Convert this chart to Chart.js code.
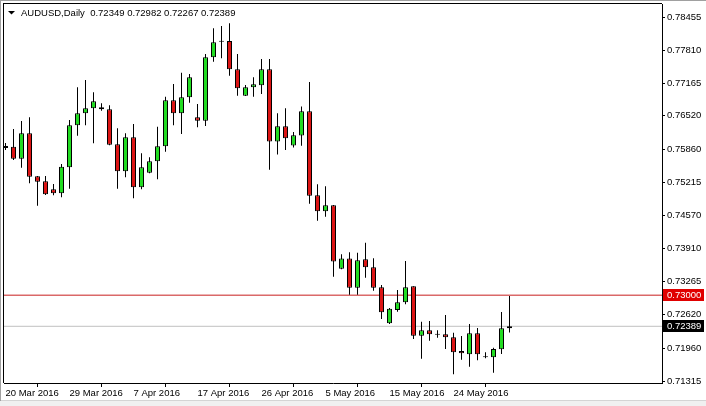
<!DOCTYPE html>
<html>
<head>
<meta charset="utf-8">
<script src="https://cdn.jsdelivr.net/npm/chart.js@4.4.1/dist/chart.umd.min.js"></script>
<style>
  html, body { margin: 0; padding: 0; background: #fff; }
  canvas { display: block; }
</style>
</head>
<body>
<canvas id="fxChart" width="706" height="406"></canvas>
<script>
const symbol = 'AUDUSD,Daily';

// daily candles, 20 Mar 2016 .. 1 Jun 2016 (MT4 keeps the Sunday bars)
const opens = [
  0.75889, 0.75915, 0.75679, 0.76178, 0.75334, 0.75236, 0.75079, 0.75000,
  0.75510, 0.76335, 0.76570, 0.76669, 0.76688, 0.76649, 0.75962, 0.75432,
  0.76099, 0.75118, 0.75404, 0.75628, 0.75923, 0.76826, 0.76570, 0.76885,
  0.76492, 0.76425, 0.77670, 0.77976, 0.77990, 0.77434, 0.76916, 0.77081,
  0.77120, 0.77434, 0.76017, 0.76315, 0.75938, 0.76135, 0.76610, 0.74961,
  0.74647, 0.74764, 0.73518, 0.73720, 0.73147, 0.73704, 0.73547, 0.73155,
  0.72448, 0.72709, 0.72860, 0.73174, 0.72205, 0.72311, 0.72224, 0.72232,
  0.72173, 0.71904, 0.71839, 0.72252, 0.71780, 0.71780, 0.71937, 0.72349
];
const highs = [
  0.75987, 0.76262, 0.76419, 0.76492, 0.75340, 0.75340, 0.75183, 0.75575,
  0.76439, 0.77081, 0.77224, 0.76983, 0.76767, 0.76728, 0.76276, 0.76178,
  0.76360, 0.75785, 0.75707, 0.76307, 0.76896, 0.77146, 0.77367, 0.77342,
  0.76753, 0.77735, 0.78239, 0.78284, 0.78337, 0.77735, 0.77126, 0.77277,
  0.77636, 0.77636, 0.76570, 0.76669, 0.76203, 0.76704, 0.77185, 0.75177,
  0.75137, 0.74770, 0.73802, 0.73842, 0.73832, 0.74028, 0.73726, 0.73200,
  0.72748, 0.73102, 0.73671, 0.73174, 0.72479, 0.72493, 0.72311, 0.72611,
  0.72263, 0.72199, 0.72434, 0.72356, 0.71879, 0.71969, 0.72670, 0.72982
];
const lows = [
  0.75850, 0.75654, 0.75503, 0.75196, 0.74757, 0.74967, 0.74961, 0.74921,
  0.75090, 0.76131, 0.76335, 0.75982, 0.76622, 0.75942, 0.75090, 0.75314,
  0.74902, 0.75079, 0.75393, 0.75275, 0.75817, 0.76335, 0.76164, 0.76779,
  0.76296, 0.76321, 0.77583, 0.77650, 0.77309, 0.76916, 0.76910, 0.76896,
  0.76949, 0.75463, 0.75762, 0.75850, 0.75899, 0.75934, 0.74796, 0.74462,
  0.74541, 0.73363, 0.73508, 0.73007, 0.73007, 0.73343, 0.73088, 0.72532,
  0.72434, 0.72676, 0.72821, 0.72140, 0.71753, 0.72106, 0.72165, 0.71943,
  0.71447, 0.71733, 0.71596, 0.71722, 0.71761, 0.71478, 0.71845, 0.72267
];
const closes = [
  0.75929, 0.75679, 0.76178, 0.75326, 0.75228, 0.74980, 0.75000, 0.75522,
  0.76335, 0.76570, 0.76669, 0.76806, 0.76649, 0.75954, 0.75432, 0.76099,
  0.75118, 0.75510, 0.75628, 0.75923, 0.76826, 0.76570, 0.76885, 0.77277,
  0.76425, 0.77670, 0.77964, 0.77976, 0.77434, 0.77061, 0.77081, 0.77140,
  0.77434, 0.76017, 0.76315, 0.76080, 0.76139, 0.76610, 0.74953, 0.74647,
  0.74764, 0.73661, 0.73720, 0.73147, 0.73685, 0.73547, 0.73147, 0.72664,
  0.72735, 0.72860, 0.73155, 0.72205, 0.72311, 0.72232, 0.72224, 0.72173,
  0.71879, 0.71859, 0.72252, 0.71839, 0.71780, 0.71943, 0.72350, 0.72389
];

const dateTicks = ['20 Mar 2016', '29 Mar 2016', '7 Apr 2016', '17 Apr 2016',
  '26 Apr 2016', '5 May 2016', '15 May 2016', '24 May 2016'];
const dateTickBars = [0, 8, 16, 24, 32, 40, 48, 56];
const priceTicks = [0.78455, 0.77810, 0.77165, 0.76520, 0.75860, 0.75215,
  0.74570, 0.73910, 0.73265, 0.72620, 0.71960, 0.71315];
const levelPrice = 0.73000;
const bidPrice = 0.72389;

const upColor = '#22dc22';
const downColor = '#dc1414';
const font = { family: '"Liberation Sans", Arial, sans-serif', size: 9.5 };

const last = opens.length - 1;
const bodies = opens.map((o, i) => ({ x: i, y: [o, closes[i]] }));
const wicks = highs.map((h, i) => ({ x: i, y: [lows[i], h] }));

const mt4Frame = {
  id: 'mt4Frame',
  beforeDraw(chart) {
    const c = chart.ctx;
    c.save();
    c.fillStyle = '#fff';
    c.fillRect(0, 0, chart.width, chart.height);
    c.fillStyle = '#f0f0f0';
    c.fillRect(0, 401, chart.width, chart.height - 401);
    c.fillStyle = '#d4d4d4';
    c.fillRect(0, 400, chart.width, 1);
    c.fillStyle = '#a0a0a0';
    c.fillRect(0, 0, chart.width, 1);
    c.fillRect(0, 0, 1, 401);
    c.restore();
  },
  afterDraw(chart) {
    const c = chart.ctx;
    const a = chart.chartArea;
    const y = chart.scales.y;
    c.save();
    c.fillStyle = '#000';
    c.fillRect(a.left - 1, a.top - 1, a.right - a.left + 1, 1);
    c.fillRect(a.left - 1, a.top - 1, 1, a.bottom - a.top + 1);

    // header
    c.beginPath();
    c.moveTo(8, 11); c.lineTo(15, 11); c.lineTo(11.5, 14.5); c.closePath();
    c.fill();
    c.font = `${font.size}px ${font.family}`;
    c.textBaseline = 'middle';
    c.fillText(`${symbol}  ${opens[last].toFixed(5)} ${highs[last].toFixed(5)} ${lows[last].toFixed(5)} ${closes[last].toFixed(5)}`, 21, 13);

    // price labels on the axis
    [[levelPrice, '#e00000'], [bidPrice, '#000']].forEach(([p, bg]) => {
      const py = Math.round(y.getPixelForValue(p));
      c.fillStyle = bg;
      c.fillRect(a.right + 1, py - 6, 41, 12);
      c.fillStyle = '#fff';
      c.fillText(p.toFixed(5), a.right + 5, py + 0.5);
    });
    c.restore();
  }
};

new Chart(document.getElementById('fxChart'), {
  type: 'bar',
  data: {
    datasets: [
      { type: 'bar', data: bodies, order: 1, barThickness: 5, minBarLength: 1, grouped: false,
        backgroundColor: ctx => closes[ctx.dataIndex] >= opens[ctx.dataIndex] ? upColor : downColor,
        borderColor: '#000', borderWidth: 1, borderSkipped: false, inflateAmount: 0 },
      { type: 'bar', data: wicks, order: 2, barThickness: 1, grouped: false,
        backgroundColor: '#000', borderWidth: 0, inflateAmount: 0 },
      { type: 'line', data: [{ x: -5, y: levelPrice }, { x: 100, y: levelPrice }], order: 3,
        borderColor: '#c81e1e', borderWidth: 1, pointRadius: 0 },
      { type: 'line', data: [{ x: -5, y: bidPrice }, { x: 100, y: bidPrice }], order: 4,
        borderColor: '#c0c0c0', borderWidth: 1, pointRadius: 0 }
    ]
  },
  options: {
    responsive: false,
    animation: false,
    devicePixelRatio: 1,
    layout: { padding: { left: 4, top: 4, right: 0, bottom: 0 }, autoPadding: false },
    plugins: { legend: { display: false }, tooltip: { enabled: false } },
    scales: {
      x: {
        type: 'linear', min: -0.1875, max: 82.0625, offset: false,
        afterBuildTicks: s => { s.ticks = dateTickBars.map(v => ({ value: v })); },
        afterFit: s => { s.height = 23; s.paddingLeft = 0; s.paddingRight = 0; },
        ticks: { autoSkip: false, maxRotation: 0, align: 'start', padding: 1, color: '#000', font,
          callback: (v, i) => dateTicks[i] },
        grid: { drawOnChartArea: false, tickLength: 4, tickColor: '#000' },
        border: { color: '#000' }
      },
      y: {
        position: 'right', min: 0.712760, max: 0.787161,
        afterBuildTicks: s => { s.ticks = priceTicks.map(v => ({ value: v })); },
        afterFit: s => { s.width = 44; s.paddingTop = 0; s.paddingBottom = 0; },
        ticks: { autoSkip: false, padding: 2, color: '#000', font,
          callback: v => v.toFixed(5) },
        grid: { drawOnChartArea: false, tickLength: 3, tickColor: '#000' },
        border: { color: '#000' }
      }
    }
  },
  plugins: [mt4Frame]
});
</script>
</body>
</html>
